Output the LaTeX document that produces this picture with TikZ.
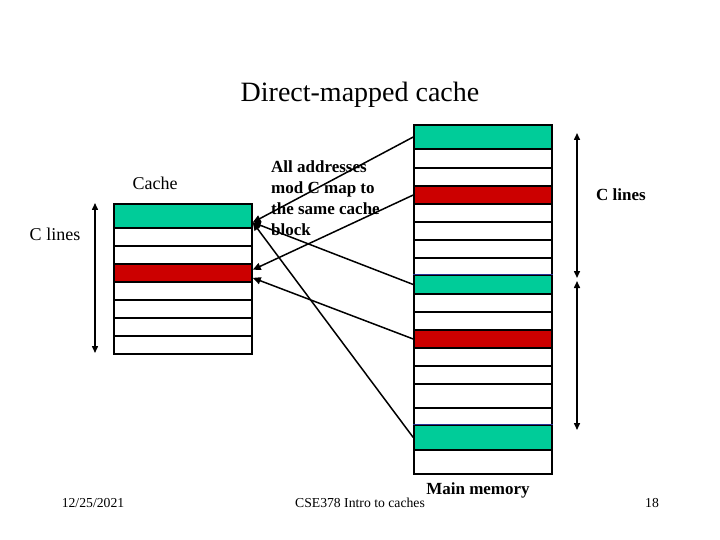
\documentclass[tikz,border=0pt]{standalone}
\usepackage{fontspec}
\setmainfont{Liberation Serif}
\usetikzlibrary{arrows.meta,calc}
\definecolor{cgreen}{RGB}{0,204,153}
\definecolor{cred}{RGB}{204,0,0}
\definecolor{cblue}{RGB}{40,50,150}
\begin{document}
\begin{tikzpicture}[x=1pt,y=-1pt,
  cell/.style={draw, line width=1.5pt, inner sep=0pt, minimum width=138pt},
  conn/.style={line width=1.5pt, -{Triangle[length=8pt,width=7pt]}},
  dbl/.style={line width=1.5pt, {Triangle[length=7pt,width=6pt]}-{Triangle[length=7pt,width=6pt]}},
  lbl/.style={inner sep=0pt, font=\fontsize{18}{21}\selectfont},
  blbl/.style={inner sep=0pt, font=\fontsize{17}{21}\selectfont\bfseries},
  foot/.style={inner sep=0pt, font=\fontsize{13.7}{16}\selectfont}]
\useasboundingbox[fill=white] (0,0) rectangle (720,540);
% texts
\node[inner sep=0pt, font=\fontsize{28}{32}\selectfont] (title) at (360,95) {Direct-mapped cache};
\node[lbl] (cachelbl) at (155,183) {Cache};
\node[lbl] (clinesl) at (55,234) {C lines};
\node[blbl, anchor=north west, align=left] (note) at (271,161) {All addresses\\mod C map to\\the same cache\\block};
\node[blbl] (clinesr) at (621,195) {C lines};
\node[blbl] (mainlbl) at (478,490) {Main memory};
\node[foot] (date) at (93,503) {12/25/2021};
\node[foot] (course) at (360,503) {CSE378 Intro to caches};
\node[foot] (page) at (652,503) {18};
% cache
\foreach \i/\t/\b/\c in {1/204/228/cgreen,2/228/246/white,3/246/264/white,4/264/282/cred,
  5/282/300/white,6/300/318/white,7/318/336/white,8/336/354/white}
  \node[cell, fill=\c, minimum height={(\b-\t)*1pt}] (c\i) at (183,{(\t+\b)/2}) {};
% main memory
\foreach \i/\t/\b/\c in {1/125/149/cgreen,2/149/168/white,3/168/186/white,4/186/204/cred,
  5/204/222/white,6/222/240/white,7/240/258/white,8/258/275/white,
  9/275/294/cgreen,10/294/312/white,11/312/330/white,12/330/348/cred,
  13/348/366/white,14/366/384/white,15/384/408/white,16/408/425/white,
  17/425/450/cgreen,18/450/474/white}
  \node[cell, fill=\c, minimum height={(\b-\t)*1pt}] (m\i) at (483,{(\t+\b)/2}) {};
\draw[cblue, line width=1.5pt] (m9.north west) -- (m9.north east);
\draw[cblue, line width=1.5pt] (m17.north west) -- (m17.north east);
% connector targets
\coordinate (cg) at ($(c1.east)!0.5!(c1.south east)$);
\coordinate (cr1) at ($(c4.north east)!0.67!(c4.east)$);
\coordinate (cr2) at ($(c4.east)!0.5!(c4.south east)$);
\draw[conn] (m1.west) -- (cg);
\draw[conn] (m9.west) -- (cg);
\draw[conn] (m17.west) -- (cg);
\draw[conn] (m4.west) -- (cr1);
\draw[conn] (m12.west) -- (cr2);
% size arrows
\coordinate (lt) at (95,203);
\coordinate (lb) at (95,353);
\draw[dbl] (lt) -- (lb);
\coordinate (r1t) at (577,133);
\coordinate (r1b) at (577,278);
\coordinate (r2t) at (577,281);
\coordinate (r2b) at (577,430);
\draw[dbl] (r1t) -- (r1b);
\draw[dbl] (r2t) -- (r2b);
\end{tikzpicture}
\end{document}
